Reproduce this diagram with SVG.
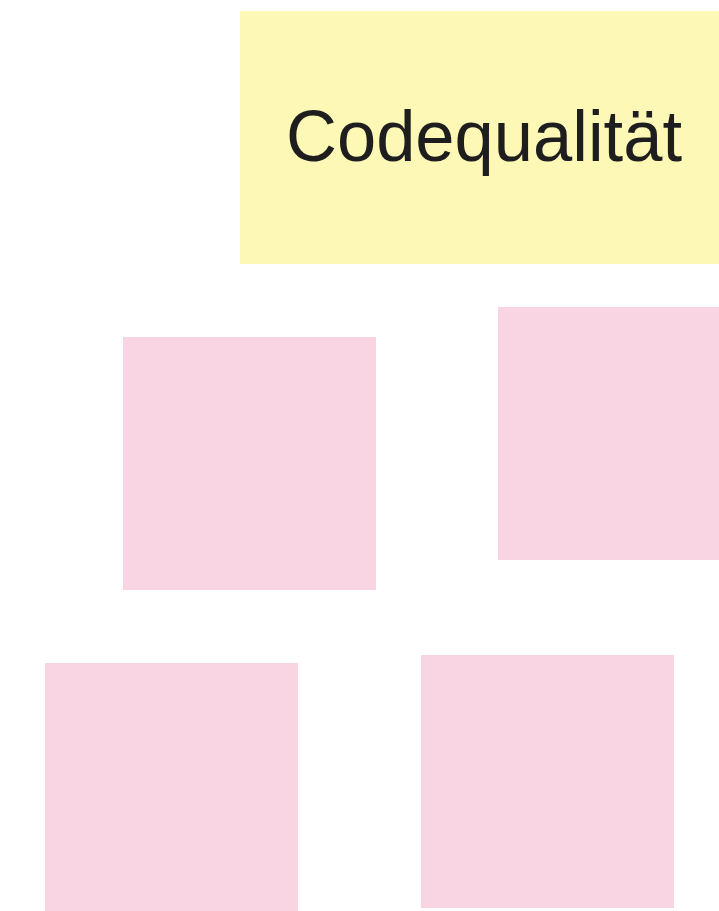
<svg xmlns="http://www.w3.org/2000/svg" width="719" height="911" viewBox="0 0 719 911">
<style>
.note{fill:#f9d5e4}
.title{fill:#fef8b6}
.lbl{font-family:"Liberation Sans","DejaVu Sans",sans-serif;font-size:72px;fill:#1e1e1e;text-anchor:middle}
</style>
<rect width="719" height="911" fill="#ffffff"/>
<g id="title-note">
<rect class="title" x="240" y="11" width="479" height="253"/>
<text class="lbl" x="484" y="161" textLength="396" lengthAdjust="spacingAndGlyphs">Codequalität</text>
</g>
<g id="note-1"><rect class="note" x="123" y="337" width="253" height="253"/></g>
<g id="note-2"><rect class="note" x="498" y="307" width="221" height="253"/></g>
<g id="note-3"><rect class="note" x="45" y="663" width="253" height="248"/></g>
<g id="note-4"><rect class="note" x="421" y="655" width="253" height="253"/></g>
<g id="connectors"></g>
</svg>
